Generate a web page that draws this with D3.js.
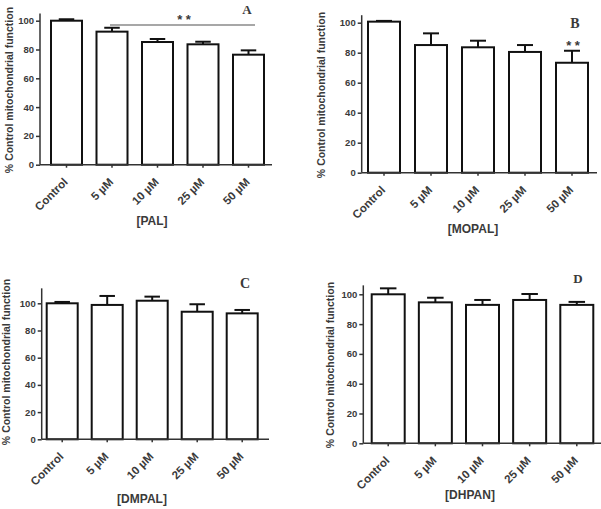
<!DOCTYPE html>
<html>
<head>
<meta charset="utf-8">
<script src="https://cdn.jsdelivr.net/npm/d3@7"></script>
<style>
  html, body { margin: 0; padding: 0; background: #fff; }
  svg { display: block; }
  text { font-family: "Liberation Sans", Arial, sans-serif; font-weight: bold; fill: #3a3a3a; }
</style>
</head>
<body>
<svg id="chart" width="601" height="509"></svg>
<script>
// ---- data ----
const categories = ["Control", "5 \u00b5M", "10 \u00b5M", "25 \u00b5M", "50 \u00b5M"];
const yTicks = [0, 20, 40, 60, 80, 100];
const yLabel = "% Control mitochondrial function";

const palMeans   = [100, 92.4, 85.2, 83.6, 76.4];
const palErrors  = [1.0, 2.7, 2.1, 1.8, 3.0];
const mopalMeans  = [100.7, 85.1, 83.6, 80.5, 73.3];
const mopalErrors = [0.5, 7.8, 4.4, 4.6, 8.0];
const dmpalMeans  = [100, 98.8, 101.9, 93.8, 92.6];
const dmpalErrors = [1.0, 6.6, 3.0, 5.5, 2.5];
const dhpanMeans  = [100, 94.6, 92.9, 96.2, 92.9];
const dhpanErrors = [4.0, 3.1, 3.3, 4.0, 2.0];

const panelLetters = ["A", "B", "C", "D"];
const xLabels = ["[PAL]", "[MOPAL]", "[DMPAL]", "[DHPAN]"];
const significance = ["* *", "* *", null, null];

// ---- layout (positions only) ----
const layouts = [
  { axisX: 40,    xEnd: 272, yBase: 164.7, y100: 20.7,  yMax: 105, b0: 51,    b1: 264,   bw: 31,
    letter: [247, 13.5, 13], xlab: [152, 225], ylab: [9, 90] },
  { axisX: 361.7, xEnd: 597, yBase: 172.7, y100: 22.7,  yMax: 105, b0: 368,   b1: 588,   bw: 32,
    letter: [575, 28, 14], xlab: [473, 233], ylab: [321.5, 95] },
  { axisX: 41.7,  xEnd: 269, yBase: 439.3, y100: 303.3, yMax: 111, b0: 46.7,  b1: 257.7, bw: 31,
    letter: [245, 288, 14], xlab: [142, 503], ylab: [6.5, 362] },
  { axisX: 363.3, xEnd: 601, yBase: 443.3, y100: 294.3, yMax: 106, b0: 371.7, b1: 593.3, bw: 33,
    letter: [578, 283, 13], xlab: [470, 499], ylab: [330.5, 365] }
];

const panelData = [
  [palMeans, palErrors],
  [mopalMeans, mopalErrors],
  [dmpalMeans, dmpalErrors],
  [dhpanMeans, dhpanErrors]
];

const svg = d3.select("#chart");

panelData.forEach(([means, errs], p) => {
  const L = layouts[p];
  const g = svg.append("g");
  const step = (L.b1 - L.b0 - L.bw) / 4;
  const gap = step - L.bw;
  const x = d3.scaleBand()
    .domain(categories)
    .range([L.b0 - gap / 2, L.b1 + gap / 2])
    .paddingInner(gap / step)
    .paddingOuter(gap / step / 2);
  const y = d3.scaleLinear().domain([0, 100]).range([L.yBase, L.y100]);

  // bars
  g.selectAll("rect.bar").data(categories).enter().append("rect")
    .attr("x", d => x(d))
    .attr("width", x.bandwidth())
    .attr("y", (d, i) => y(means[i]))
    .attr("height", (d, i) => y(0) - y(means[i]))
    .attr("fill", "#fff").attr("stroke", "#111").attr("stroke-width", 2);

  // error bars (upper only)
  const cap = x.bandwidth() * 0.5;
  categories.forEach((c, i) => {
    const cx = x(c) + x.bandwidth() / 2;
    g.append("line").attr("x1", cx).attr("x2", cx)
      .attr("y1", y(means[i])).attr("y2", y(means[i] + errs[i]))
      .attr("stroke", "#111").attr("stroke-width", 2);
    g.append("line").attr("x1", cx - cap / 2).attr("x2", cx + cap / 2)
      .attr("y1", y(means[i] + errs[i])).attr("y2", y(means[i] + errs[i]))
      .attr("stroke", "#111").attr("stroke-width", 2);
  });

  // y axis
  const yAxis = d3.axisLeft(y).tickValues(yTicks).tickSize(4).tickPadding(2);
  const ya = g.append("g").attr("transform", `translate(${L.axisX},0)`).call(yAxis);
  ya.select(".domain").remove();
  ya.selectAll(".tick line").attr("stroke", "#333").attr("stroke-width", 1.5);
  ya.selectAll(".tick text").style("font-size", "9.5px").attr("fill", "#3a3a3a");
  g.append("line").attr("x1", L.axisX).attr("x2", L.axisX)
    .attr("y1", y(0)).attr("y2", y(L.yMax))
    .attr("stroke", "#333").attr("stroke-width", 1.5);

  // x axis
  const xAxis = d3.axisBottom(x).tickSize(3).tickFormat("");
  const xa = g.append("g").attr("transform", `translate(0,${L.yBase})`).call(xAxis);
  xa.select(".domain").remove();
  xa.selectAll(".tick line").attr("stroke", "#333").attr("stroke-width", 1.5);
  g.append("line").attr("x1", L.axisX).attr("x2", L.xEnd)
    .attr("y1", L.yBase).attr("y2", L.yBase)
    .attr("stroke", "#333").attr("stroke-width", 1.5);

  // rotated category labels
  categories.forEach(c => {
    const cx = x(c) + x.bandwidth() / 2;
    g.append("text")
      .attr("transform", `translate(${cx + 2},${L.yBase + 18}) rotate(-45)`)
      .attr("text-anchor", "end")
      .style("font-size", "11.5px")
      .text(c);
  });

  // x axis title
  g.append("text").attr("x", L.xlab[0]).attr("y", L.xlab[1])
    .attr("text-anchor", "middle").style("font-size", "12px").text(xLabels[p]);

  // y axis title
  g.append("text")
    .attr("transform", `translate(${L.ylab[0]},${L.ylab[1]}) rotate(-90)`)
    .attr("text-anchor", "middle").attr("dy", "0.35em")
    .style("font-size", "10.5px").text(yLabel);

  // panel letter
  g.append("text").attr("x", L.letter[0]).attr("y", L.letter[1])
    .attr("text-anchor", "middle")
    .style("font-family", "'Liberation Serif', 'Times New Roman', serif")
    .style("font-size", L.letter[2] + "px").attr("fill", "#222")
    .text(panelLetters[p]);
});

// significance marks
{
  // Panel A: line spanning treated groups with ** above
  const L = layouts[0];
  const y = d3.scaleLinear().domain([0, 100]).range([L.yBase, L.y100]);
  svg.append("line").attr("x1", 110).attr("x2", 255)
    .attr("y1", y(97)).attr("y2", y(97))
    .attr("stroke", "#8a8a8a").attr("stroke-width", 1.5);
  svg.append("text").attr("x", 184).attr("y", y(97) - 1.5)
    .attr("text-anchor", "middle").style("font-size", "13px").attr("fill", "#8a8a8a")
    .text(significance[0]);
  // Panel B: ** above the 50 µM bar
  const LB = layouts[1];
  const yB = d3.scaleLinear().domain([0, 100]).range([LB.yBase, LB.y100]);
  svg.append("text").attr("x", 573).attr("y", yB(mopalMeans[4] + mopalErrors[4]) - 1)
    .attr("text-anchor", "middle").style("font-size", "13px").attr("fill", "#8a8a8a")
    .text(significance[1]);
}
</script>
</body>
</html>
